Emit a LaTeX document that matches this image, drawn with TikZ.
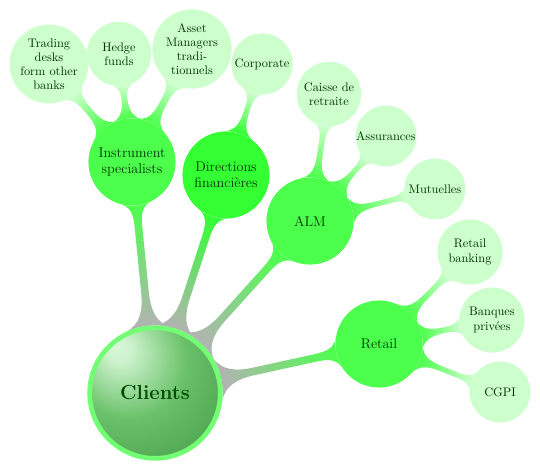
\documentclass[tikz,border=0pt]{standalone}
\usetikzlibrary{mindmap,shadings,backgrounds}
\pgfdeclareradialshading{clientsball}{\pgfpoint{-15bp}{18bp}}{%
  rgb(0bp)=(.85,.97,.85);
  rgb(5bp)=(.80,.95,.80);
  rgb(22bp)=(.42,.76,.42);
  rgb(42bp)=(.29,.62,.29);
  rgb(58bp)=(.21,.51,.21);
  rgb(70bp)=(.17,.44,.17)}
\begin{document}
\begin{tikzpicture}[x=0.0298507cm,y=-0.0298507cm,
  lone/.style={circle, inner sep=0pt, minimum size=2.6cm, text width=2.2cm,
    align=center, font=\large, text=green!20!black},
  ltwo/.style={circle, inner sep=0pt, minimum size=0pt, text width=1.8cm,
    align=center, font=\fontsize{10.5}{12}\selectfont, fill=green!20, text=green!20!black},
  rootbar/.style={circle connection bar switch color=from (black!30) to (#1)},
  leafbar/.style={circle connection bar switch color=from (#1) to (green!20)},
]
\useasboundingbox (0,0) rectangle (540,470);
% root
\node[circle, minimum size=3.9cm, inner sep=0pt, shading=clientsball,
  draw=green!55, line width=4pt, font=\LARGE\bfseries, text=green!30!black]
  (root) at (155,393) {Clients};
% level 1
\node[lone, fill=green!70] (ins) at (132,162) {Instrument specialists};
\node[lone, fill=green!80] (dir) at (226,175) {Directions financières};
\node[lone, fill=green!70] (alm) at (310,221) {ALM};
\node[lone, fill=green!70] (ret) at (379,344) {Retail};
% level 2
\node[ltwo] (trd) at (49,64) {Trading\\desks\\form other\\banks};
\node[ltwo] (hed) at (119,54) {Hedge\\funds};
\node[ltwo] (ast) at (192,49) {Asset\\Managers\\tradi-\\tionnels};
\node[ltwo] (cor) at (262,64) {Corporate};
\node[ltwo] (cai) at (329,94) {Caisse de\\retraite};
\node[ltwo] (ass) at (386,136) {Assurances};
\node[ltwo] (mut) at (435,189) {Mutuelles};
\node[ltwo] (rtb) at (470,252) {Retail\\banking};
\node[ltwo] (bqp) at (492,320) {Banques\\privées};
\node[ltwo] (cgp) at (500,392) {CGPI};
% connections
\begin{scope}[on background layer]
\path (root) to[rootbar=green!70] (ins);
\path (root) to[rootbar=green!80] (dir);
\path (root) to[rootbar=green!70] (alm);
\path (root) to[rootbar=green!70] (ret);
\path (ins) to[leafbar=green!70] (trd);
\path (ins) to[leafbar=green!70] (hed);
\path (ins) to[leafbar=green!70] (ast);
\path (dir) to[leafbar=green!80] (cor);
\path (alm) to[leafbar=green!70] (cai);
\path (alm) to[leafbar=green!70] (ass);
\path (alm) to[leafbar=green!70] (mut);
\path (ret) to[leafbar=green!70] (rtb);
\path (ret) to[leafbar=green!70] (bqp);
\path (ret) to[leafbar=green!70] (cgp);
\end{scope}
\end{tikzpicture}
\end{document}
